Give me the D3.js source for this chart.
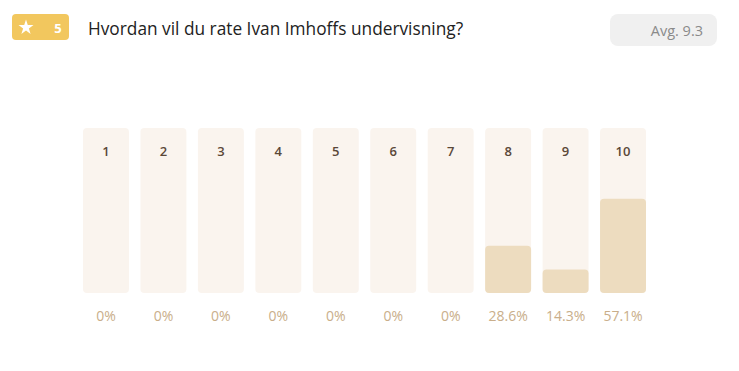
<!DOCTYPE html>
<html><head><meta charset="utf-8">
<script src="https://cdn.jsdelivr.net/npm/d3@7"></script>
<style>
html,body{margin:0;padding:0;background:#fff;}
svg{display:block;font-family:"Open Sans","Noto Sans",sans-serif;}
</style></head>
<body>
<svg id="chart" width="739" height="371"></svg>
<script>
const categories = ["1","2","3","4","5","6","7","8","9","10"];
const percents = [0, 0, 0, 0, 0, 0, 0, 28.6, 14.3, 57.1];
const percentLabels = ["0%","0%","0%","0%","0%","0%","0%","28.6%","14.3%","57.1%"];
const title = "Hvordan vil du rate Ivan Imhoffs undervisning?";
const badgeCount = "5";
const avgLabel = "Avg. 9.3";

(function(){
const svg = d3.select("#chart");

// header badge
svg.append("rect").attr("x",12).attr("y",14).attr("width",57).attr("height",26).attr("rx",4).attr("fill","#f2c75e");
const star = d3.symbol().type(d3.symbolStar).size(70);
svg.append("path").attr("d",star()).attr("transform","translate(26,27.5)").attr("fill","#fff");
svg.append("text").attr("x",58).attr("y",32.5).attr("text-anchor","middle").attr("fill","#fff")
  .attr("font-size",13).attr("font-weight",700).text(badgeCount);
svg.append("text").attr("x",88).attr("y",34.5).attr("fill","#222").attr("font-size",17.3).text(title);

// avg box
svg.append("rect").attr("x",610).attr("y",14).attr("width",107).attr("height",32).attr("rx",8).attr("fill","#f0f0f0");
svg.append("text").attr("x",703).attr("y",36).attr("text-anchor","end").attr("fill","#8a8a8a").attr("font-size",14.5).text(avgLabel);

// bars
const x = d3.scaleBand().domain(categories).range([83, 646]).paddingInner(0.2).paddingOuter(0);
const barTop = 128, barBottom = 293;
const y = d3.scaleLinear().domain([0,100]).range([barBottom, barTop]);

const g = svg.append("g");
const cols = g.selectAll("g.col").data(categories).join("g").attr("class","col");
cols.append("rect").attr("x",d=>x(d)).attr("y",barTop).attr("width",x.bandwidth()).attr("height",barBottom-barTop)
  .attr("rx",4).attr("fill","#faf4ee");
cols.append("rect").attr("x",d=>x(d)).attr("y",(d,i)=>y(percents[i])).attr("width",x.bandwidth())
  .attr("height",(d,i)=>barBottom-y(percents[i])).attr("rx",4).attr("fill","#eddcbf");
cols.append("text").attr("x",d=>x(d)+x.bandwidth()/2).attr("y",156).attr("text-anchor","middle")
  .attr("fill","#5a4838").attr("font-size",13).attr("font-weight",600).text(d=>d);
cols.append("text").attr("x",d=>x(d)+x.bandwidth()/2).attr("y",321).attr("text-anchor","middle")
  .attr("fill","#c9ae8a").attr("font-size",14).text((d,i)=>percentLabels[i]);
})();
</script>
</body></html>
